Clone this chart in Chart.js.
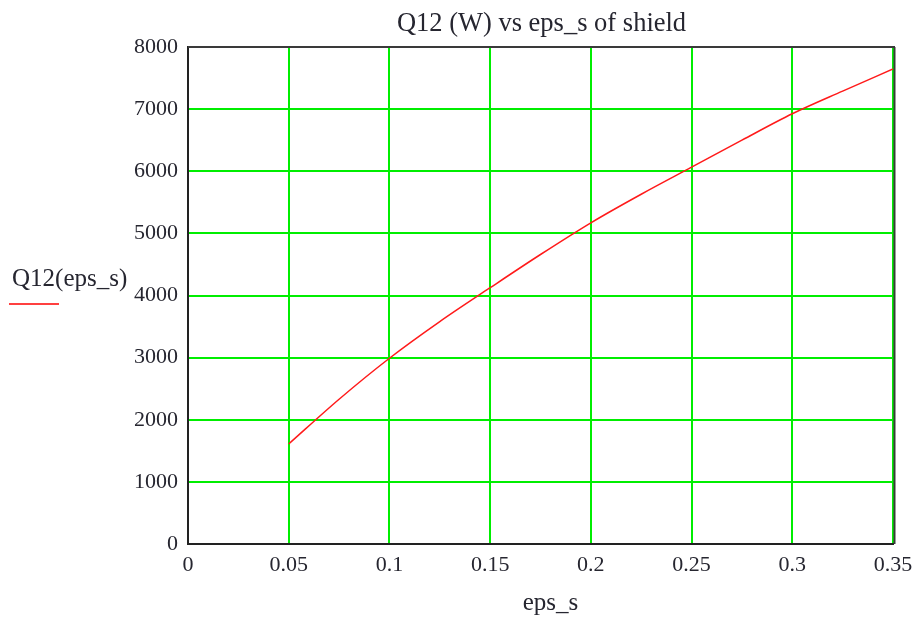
<!DOCTYPE html>
<html>
<head>
<meta charset="utf-8">
<script src="https://cdn.jsdelivr.net/npm/chart.js@4/dist/chart.umd.min.js"></script>
<style>
  html, body { margin: 0; padding: 0; background: #fff; }
  #wrap { width: 921px; height: 618px; position: relative; }
</style>
</head>
<body>
<div id="wrap"><canvas id="c" width="921" height="618"></canvas></div>
<script>
// Shield emissivity and the resulting heat flow Q12 (W)
const epsValues = [0.05, 0.075, 0.1, 0.125, 0.15, 0.175, 0.2, 0.225, 0.25, 0.275, 0.3, 0.325, 0.35];
const q12Values = [1610, 2330, 2990, 3580, 4125, 4660, 5170, 5630, 6065, 6500, 6925, 7290, 7645];

const xTicks = [0, 0.05, 0.1, 0.15, 0.2, 0.25, 0.3, 0.35];
const yTicks = [0, 1000, 2000, 3000, 4000, 5000, 6000, 7000, 8000];

const chartTitle = 'Q12 (W) vs eps_s of shield';
const xLabel = 'eps_s';
const yLabel = 'Q12(eps_s)';

const textColor = '#262630';
const serif = '"Liberation Serif", "Times New Roman", serif';

const points = epsValues.map((e, i) => ({ x: e, y: q12Values[i] }));

const decorations = {
  id: 'decorations',
  afterDraw(chart) {
    const { ctx, chartArea: a } = chart;
    ctx.save();
    // frame: top and right edges
    ctx.strokeStyle = '#3a3a3a';
    ctx.lineWidth = 2;
    ctx.beginPath();
    ctx.moveTo(a.left, a.top);
    ctx.lineTo(a.right + 2, a.top);
    ctx.moveTo(a.right + 1.5, a.top);
    ctx.lineTo(a.right + 1.5, a.bottom);
    ctx.stroke();

    ctx.fillStyle = textColor;
    ctx.textBaseline = 'alphabetic';
    ctx.textAlign = 'center';
    // title
    ctx.font = '26.5px ' + serif;
    ctx.fillText(chartTitle, (a.left + a.right) / 2 + 1, 31);
    // x axis label
    ctx.font = '25px ' + serif;
    ctx.fillText(xLabel, (a.left + a.right) / 2 + 10, 610);
    // y axis label with the series swatch beneath it
    ctx.textAlign = 'left';
    ctx.fillText(yLabel, 12, 286);
    ctx.strokeStyle = '#ff0000';
    ctx.lineWidth = 1.5;
    ctx.beginPath();
    ctx.moveTo(9, 304);
    ctx.lineTo(59, 304);
    ctx.stroke();
    ctx.restore();
  }
};

new Chart(document.getElementById('c'), {
  type: 'line',
  data: {
    datasets: [{
      data: points,
      borderColor: '#ff1a1a',
      borderWidth: 1.5,
      pointRadius: 0,
      tension: 0.4,
      cubicInterpolationMode: 'monotone',
      fill: false
    }]
  },
  options: {
    responsive: false,
    animation: false,
    layout: { padding: { left: 0, top: 47, right: 28, bottom: 0 } },
    plugins: {
      legend: { display: false },
      title: { display: false },
      tooltip: { enabled: false }
    },
    scales: {
      x: {
        type: 'linear',
        min: 0,
        max: 0.35,
        afterFit(s) { s.height = 74; },
        afterBuildTicks(s) { s.ticks = xTicks.map(v => ({ value: v })); },
        grid: { color: '#00ee00', lineWidth: 2, drawTicks: false },
        border: { display: true, color: '#222', width: 2 },
        ticks: {
          padding: 8,
          color: textColor,
          font: { family: serif, size: 22 },
          maxRotation: 0,
          autoSkip: false,
          callback: v => String(v)
        }
      },
      y: {
        min: 0,
        max: 8000,
        afterFit(s) { s.width = 188; },
        afterBuildTicks(s) { s.ticks = yTicks.map(v => ({ value: v })); },
        grid: { color: '#00ee00', lineWidth: 2, drawTicks: false },
        border: { display: true, color: '#222', width: 2 },
        ticks: {
          padding: 10,
          color: textColor,
          font: { family: serif, size: 22 },
          autoSkip: false,
          callback: v => String(v)
        }
      }
    }
  },
  plugins: [decorations]
});
</script>
</body>
</html>
